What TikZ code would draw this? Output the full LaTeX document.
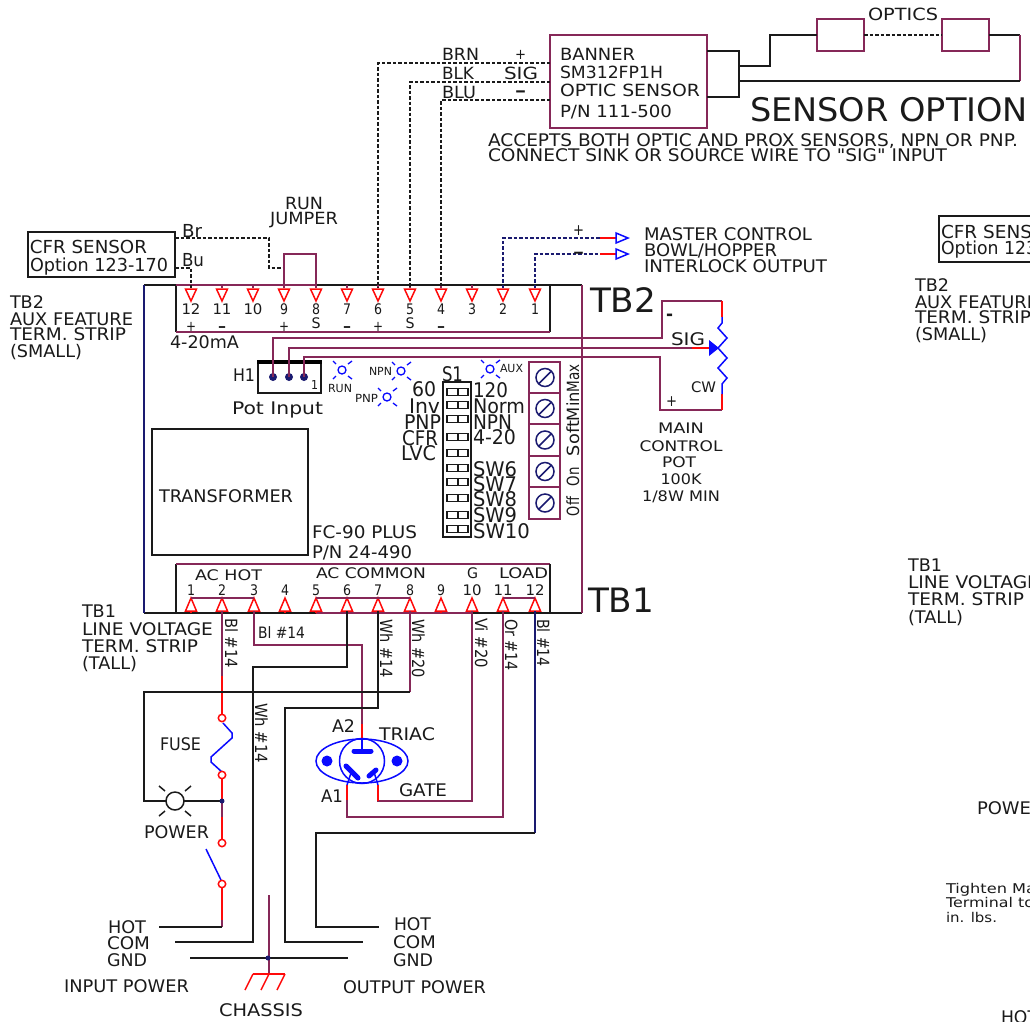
\documentclass[tikz,border=0pt]{standalone}
\usepackage{fontspec}
\setmainfont{DejaVu Sans}
\newfontfamily\plainquote[Ligatures=ResetAll]{DejaVu Sans}
\usepackage{graphicx}
\definecolor{pur}{HTML}{862858}
\definecolor{nav}{HTML}{1A1A70}
\definecolor{rd}{HTML}{FF0A0A}
\definecolor{bl}{HTML}{0A0AFF}
\definecolor{ink}{HTML}{1A1A1A}
\newsavebox\lbbox
\newcounter{lbn}
\newcommand\lbtext[3]{\sbox\lbbox{\fontsize{\fpeval{#1*1.12}}{\fpeval{#1*1.12}}\selectfont #3}\pgfmathsetmacro\lbhs{#2/\the\wd\lbbox}\scalebox{\lbhs}[1]{\usebox\lbbox}}
\newcommand\lab[6][]{\stepcounter{lbn}\node[inner sep=0,outer sep=0,text=ink,anchor=base west,#1] (lab\thelbn) at (#2,{#3+.408*#4}) {\lbtext{#4}{#5}{#6}};}
\newcommand\rlab[6][-90]{\stepcounter{lbn}\node[inner sep=0,outer sep=0,text=ink,anchor=base west,rotate=#1] (lab\thelbn) at (#2,#3) {\lbtext{#4}{#5}{#6}};}
\tikzset{
 wire/.style={line width=1.5pt,line join=miter},
 pw/.style={wire,draw=pur}, bw/.style={wire,draw=ink}, rw/.style={wire,draw=rd},
 uw/.style={wire,draw=bl}, nw/.style={wire,draw=nav},
 dw/.style={wire,draw=ink,dash pattern=on 3.5pt off 2pt},
 ndw/.style={wire,draw=nav,dash pattern=on 3.5pt off 2pt},
 tri/.style={line width=1.5pt,draw=rd,fill=white},
 box/.style={draw,line width=1.5pt,inner sep=0,outer sep=0,anchor=north west,fill=white},
 led/.style={line width=1.3pt,draw=bl},
}
\begin{document}
\begin{tikzpicture}[x=1pt,y=-1pt,font=\fontsize{14}{14}\selectfont]
\useasboundingbox (0,0) rectangle (1030,1021);
\clip (0,0) rectangle (1030,1021);
\fill[white] (0,0) rectangle (1030,1021);
% --- board and strips
\draw[bw] (144,285) -- (582,285);
\draw[bw] (144,613) -- (582,613);
\draw[wire,draw=nav] (144,285) -- (144,613);
\draw[pw] (582,285) -- (582,613);
\draw[bw] (550,285) -- (550,332);
\draw[bw] (176,285) -- (176,332);
\draw[pw] (176,332) -- (550,332);
\draw[pw] (176,285) -- (316,285);
\draw[bw] (176,613) -- (176,564);
\draw[pw] (176,564) -- (550,564);
\draw[bw] (550,564) -- (550,613);
\draw[pw] (316,613) -- (472,613);
% --- TB2 terminals
\foreach \n/\x/\w in {12/191/19,11/222/19,10/253/19,9/284/8,8/316/8,7/347/8,6/378/8,5/410/8,4/441/8,3/472/8,2/503/8,1/535/8}{
 \coordinate (a\n) at (\x,288);
 \draw[pw] (\x,285) -- (\x,288);
 \draw[tri] (\x-5.5,289) -- (\x+5.5,289) -- (\x,301) -- cycle;
 \lab[anchor=base]{\x}{309}{13}{\w}{\n}
}
% --- TB1 terminals
\foreach \n/\x/\w in {1/191/8,2/222/8,3/254/8,4/285/8,5/316/8,6/347/8,7/378/8,8/410/8,9/441/8,10/472/19,11/503/19,12/535/19}{
 \coordinate (b\n) at (\x,611);
 \draw[tri] (\x-5.5,611) -- (\x+5.5,611) -- (\x,598) -- cycle;
 \draw[rw] (\x,611) -- (\x,613);
 \lab[anchor=base]{\x}{590}{13}{\w}{\n}
}
\draw[pw] (b1 |- 0,598) -- (b3 |- 0,598);
\draw[pw] (b5 |- 0,598) -- (b8 |- 0,598);
\draw[pw] (b11 |- 0,598) -- (b12 |- 0,598);
% --- sign labels
\lab[anchor=base]{191}{326}{13}{10}{+}
\lab[anchor=base]{222}{326}{13}{8}{\textbf{–}}
\lab[anchor=base]{284}{326}{13}{10}{+}
\lab[anchor=base]{316}{323}{13}{9}{S}
\lab[anchor=base]{347}{326}{13}{8}{\textbf{–}}
\lab[anchor=base]{378}{326}{13}{10}{+}
\lab[anchor=base]{410}{323}{13}{9}{S}
\lab[anchor=base]{441}{326}{13}{8}{\textbf{–}}
% --- banner sensor
\node[box,draw=pur,minimum width=157pt,minimum height=93pt] (banner) at (550,35) {};
\node[box,draw=pur,minimum width=47pt,minimum height=32pt] (optA) at (817,19) {};
\node[box,draw=pur,minimum width=47pt,minimum height=32pt] (optB) at (942,19) {};
\draw[bw] (707,51) -- (739,51) -- (739,97) -- (707,97);
\draw[bw] (739,66) -- (770,66) -- (770,35) -- (optA.west);
\draw[dw] (optA.east) -- (optB.west);
\draw[bw] (optB.east) -- (1020,35);
\draw[pw] (1020,35) -- (1020,81);
\draw[bw] (1020,81) -- (739,81);
\draw[dw] (banner.west |- 0,63) -- (378,63) -- (a6);
\draw[dw] (banner.west |- 0,82) -- (410,82) -- (a5);
\draw[dw] (banner.west |- 0,100) -- (441,100) -- (a4);
\lab{442}{54}{15}{37}{BRN}
\lab{442}{73}{15}{32}{BLK}
\lab{442}{92}{15}{34}{BLU}
\lab{515}{54}{13}{11}{+}
\lab{504}{73}{15}{34}{SIG}
\lab{515}{90}{15}{11}{\textbf{–}}
\lab{560}{54}{15}{75}{BANNER}
\lab{560}{72}{15}{103}{SM312FP1H}
\lab{560}{90}{15}{140}{OPTIC SENSOR}
\lab{560}{111}{15}{112}{P/N 111-500}
\lab{868}{14}{15}{70}{OPTICS}
\lab{750}{110}{29}{278}{SENSOR OPTION}
\lab{488}{140}{15.5}{530}{ACCEPTS BOTH OPTIC AND PROX SENSORS, NPN OR PNP.}
\lab{488}{155}{15.5}{459}{CONNECT SINK OR SOURCE WIRE TO {\plainquote "}SIG{\plainquote "} INPUT}
% --- CFR sensor and jumper
\node[box,draw=ink,minimum width=147pt,minimum height=45pt] (cfr) at (28,232) {};
\draw[dw] (cfr.east |- 0,238) -- (269,238) -- (269,268) -- (284,268);
\draw[dw] (cfr.east |- 0,268) -- (191,268) -- (a12);
\draw[pw] (a9) -- (284,254) -- (316,254) -- (a8);
\lab{30}{247}{16}{117}{CFR SENSOR}
\lab{30}{265}{16}{138}{Option 123-170}
\lab{182}{231}{16}{20}{Br}
\lab{182}{260}{16}{22}{Bu}
\lab[anchor=base]{304}{203}{15}{38}{RUN}
\lab[anchor=base]{304}{218}{15}{68}{JUMPER}
\lab{10}{302}{15.5}{34}{TB2}
\lab{10}{319}{15.5}{123}{AUX FEATURE}
\lab{10}{334}{15.5}{116}{TERM. STRIP}
\lab{10}{351}{15.5}{72}{(SMALL)}
\lab{170}{342}{15.5}{69}{4-20mA}
\lab{590}{300}{30}{66}{TB2}
\lab{588}{600}{30}{66}{TB1}
% --- interlock output
\draw[ndw] (a2) -- (503,238) -- (600,238);
\draw[ndw] (a1) -- (535,254) -- (600,254);
\draw[rw] (600,238) -- (616,238);
\draw[rw] (600,254) -- (616,254);
\draw[uw,fill=white] (616,233) -- (628,238) -- (616,243) -- cycle;
\draw[uw,fill=white] (616,249) -- (628,254) -- (616,259) -- cycle;
\lab{573}{230}{14}{11}{+}
\lab{573}{252}{14}{11}{\textbf{–}}
\lab{644}{234}{15.5}{168}{MASTER CONTROL}
\lab{644}{250}{15.5}{133}{BOWL/HOPPER}
\lab{644}{266}{15.5}{183}{INTERLOCK OUTPUT}
% --- pot wiring
\coordinate (h1) at (273,377);
\coordinate (h2) at (289,377);
\coordinate (h3) at (304,377);
\draw[pw] (h1) -- (273,338) -- (662,338) -- (662,301) -- (722,301);
\draw[pw] (h2) -- (289,348) -- (692,348);
\draw[pw] (h3) -- (304,357) -- (660,357) -- (660,410) -- (722,410);
\draw[rw] (722,301) -- (722,317);
\draw[rw] (722,394) -- (722,410);
\draw[rw] (692,348) -- (710,348);
\draw[uw] (722,317) -- (722,323) -- (718,328) -- (727,338) -- (718,348) -- (727,358) -- (718,368) -- (727,378) -- (722,384) -- (722,394);
\fill[bl] (709,340) -- (719,348) -- (709,356) -- cycle;
\lab{666}{314}{16}{7}{\textbf{-}}
\lab{671}{339}{15.5}{34}{SIG}
\lab{691}{387}{13}{25}{CW}
\lab{666}{401}{14}{11}{+}
\lab[anchor=base]{681}{428}{13}{46}{MAIN}
\lab[anchor=base]{681}{446}{13}{83}{CONTROL}
\lab[anchor=base]{679}{462}{13}{34}{POT}
\lab[anchor=base]{681}{479}{13}{41}{100K}
\lab[anchor=base]{681}{496}{13}{78}{1/8W MIN}
% --- H1
\node[box,draw=ink,minimum width=63pt,minimum height=31pt] (hdr) at (258,362) {};
\draw[line width=3.5pt,draw=black] ([xshift=-1pt]hdr.north west) -- ([xshift=1pt]hdr.north east);
\foreach \c in {h1,h2,h3}{\fill[nav] (\c) circle [radius=4pt];}
\draw[pw] (h1) -- (273,338);
\draw[pw] (h2) -- (289,348);
\draw[pw] (h3) -- (304,357);
\lab{233}{375}{15.5}{22}{H1}
\lab{311}{385}{11}{7}{1}
\lab{232}{408}{15.5}{91}{Pot Input}
% --- LEDs
\foreach \cx/\cy in {342/370,401/371,387/397,490/369}{
 \draw[led] (\cx,\cy) circle [radius=4pt];
 \draw[led] (\cx+6,\cy-6) -- (\cx+10,\cy-9);
 \draw[led] (\cx-6,\cy-6) -- (\cx-9,\cy-9);
 \draw[led] (\cx+6,\cy+6) -- (\cx+10,\cy+9);
 \draw[led] (\cx-6,\cy+6) -- (\cx-9,\cy+9);
}
\lab{328}{388}{10}{24}{RUN}
\lab{369}{371}{10}{23}{NPN}
\lab{355}{398}{10}{23}{PNP}
\lab{500}{368}{10}{23}{AUX}
% --- DIP switch
\node[box,draw=ink,minimum width=28pt,minimum height=155pt] (dip) at (443,382) {};
\foreach \sy in {392,405,419,437,453,468,482,498,515,529}{
 \draw[line width=1.3pt,draw=ink] (447,\sy-3.5) rectangle (468,\sy+3.5);
 \draw[line width=1.3pt,draw=ink] (458,\sy-3.5) -- (458,\sy+3.5);
}
\lab{442}{374}{18}{21}{S1}
\lab{412}{389}{18}{24}{60}
\lab{409}{406}{18}{31}{Inv}
\lab{404}{422}{18}{37}{PNP}
\lab{402}{438}{18}{36}{CFR}
\lab{401}{453}{18}{35}{LVC}
\lab{473}{390}{18}{35}{120}
\lab{473}{406}{18}{52}{Norm}
\lab{473}{422}{18}{39}{NPN}
\lab{473}{437}{18}{43}{4-20}
\lab{473}{469}{18}{44}{SW6}
\lab{473}{484}{18}{44}{SW7}
\lab{473}{499}{18}{44}{SW8}
\lab{473}{515}{18}{44}{SW9}
\lab{473}{531}{18}{57}{SW10}
% --- trim pots
\foreach \ty/\by in {362/393,393/424,424/456,456/487,487/519}{
 \draw[pw] (529,\ty) rectangle (560,\by);
 \draw[line width=1.5pt,draw=nav] (545,{(\ty+\by)/2}) circle [radius=9pt];
 \draw[line width=1.5pt,draw=nav] (539,{(\ty+\by)/2+6}) -- (551,{(\ty+\by)/2-6});
}
\rlab[90]{579}{392}{15}{28}{Max}
\rlab[90]{579}{421}{15}{29}{Min}
\rlab[90]{579}{456}{15}{35}{Soft}
\rlab[90]{579}{486}{15}{19}{On}
\rlab[90]{579}{516}{15}{19}{Off}
% --- transformer
\node[box,draw=ink,minimum width=156pt,minimum height=126pt] (xfmr) at (152,429) {};
\lab{159}{496}{15.5}{134}{TRANSFORMER}
\lab{312}{532}{15.5}{105}{FC-90 PLUS}
\lab{312}{552}{15.5}{100}{P/N 24-490}
% --- TB1 labels
\lab{195}{575}{13}{67}{AC HOT}
\lab{316}{573}{13}{110}{AC COMMON}
\lab{467}{573}{13}{11}{G}
\lab{499}{573}{13}{49}{LOAD}
\lab{82}{611}{15.5}{34}{TB1}
\lab{82}{629}{15.5}{131}{LINE VOLTAGE}
\lab{82}{646}{15.5}{116}{TERM. STRIP}
\lab{82}{663}{15.5}{55}{(TALL)}
\rlab{225}{618}{15}{50}{Bl \#14}
\rlab{255}{703}{15}{60}{Wh \#14}
\rlab{380}{619}{15}{59}{Wh \#14}
\rlab{412}{619}{15}{59}{Wh \#20}
\rlab{475}{618}{15}{50}{Vi \#20}
\rlab{505}{619}{15}{52}{Or \#14}
\rlab{537}{619}{15}{48}{Bl \#14}
\lab{258}{633}{14}{47}{Bl \#14}
% --- lower wiring
\coordinate (fuseT) at (222,718);
\coordinate (fuseB) at (222,775);
\coordinate (swT) at (222,843);
\coordinate (swB) at (222,884);
\coordinate (junc) at (222,801);
\coordinate (lamp) at (175,801);
\coordinate (gndj) at (268,958);
\coordinate (tA2) at (362,739);
\coordinate (tA1) at (347,785);
\coordinate (tG) at (378,785);
\draw[pw] (b2) -- (222,676);
\draw[rw] (222,676) -- (fuseT);
\draw[rw] (fuseB) -- (junc);
\draw[pw] (junc) -- (222,817);
\draw[rw] (222,817) -- (swT);
\draw[rw] (swB) -- (222,920);
\draw[pw] (222,920) -- (222,927);
\draw[bw] (222,927) -- (159,927);
\draw[uw] (223,723) -- (232,733) -- (232,738) -- (211,757) -- (211,762) -- (222,772);
\draw[uw] (206,849) -- (221,880);
\foreach \c in {fuseT,fuseB,swT,swB}{\draw[rw,fill=white] (\c) circle [radius=3.7pt];}
\draw[pw] (b3) -- (254,645) -- (362,645) -- (362,724);
\draw[rw] (362,724) -- (tA2);
\draw[bw] (b6) -- (347,667) -- (253,667) -- (253,942) -- (175,942);
\draw[bw] (b7) -- (378,708) -- (285,708) -- (285,942) -- (363,942);
\draw[pw] (b8) -- (410,692);
\draw[bw] (410,692) -- (144,692) -- (144,801) -- (lamp);
\draw[bw] (lamp) -- (junc);
\draw[pw] (b10) -- (472,801) -- (378,801) -- (378,800);
\draw[rw] (378,801) -- (tG);
\draw[pw] (b11) -- (503,817) -- (347,817) -- (347,800);
\draw[rw] (347,800) -- (tA1);
\draw[nw] (b12) -- (535,833);
\draw[bw] (535,833) -- (316,833) -- (316,927) -- (379,927);
\draw[bw] (190,958) -- (348,958);
\draw[pw] (269,895) -- (269,974);
\draw[rw] (253,974) -- (285,974);
\draw[rw] (253,974) -- (245,990);
\draw[rw] (269,974) -- (261,990);
\draw[rw] (285,974) -- (277,990);
\fill[nav] (junc) circle [radius=2.5pt];
\fill[nav] (gndj) circle [radius=2.5pt];
\draw[bw,fill=white] (lamp) circle [radius=9pt];
\draw[bw] (165,791) -- (159,786);
\draw[bw] (185,791) -- (191,786);
\draw[bw] (165,811) -- (159,816);
\draw[bw] (185,811) -- (191,816);
\lab{160}{744}{15.5}{41}{FUSE}
\lab{144}{832}{15.5}{65}{POWER}
% --- triac
\draw[uw] (362,761) ellipse [x radius=46, y radius=22];
\draw[uw] (362,761) circle [radius=22.5pt];
\fill[bl] (327,761) circle [radius=5.5pt];
\fill[bl] (397,761) circle [radius=5.5pt];
\draw[bl,line width=5pt,line cap=round] (354,751) -- (371,751);
\draw[bl,line width=5pt,line cap=round] (346,766) -- (358,778);
\draw[bl,line width=5pt,line cap=round] (369,776) -- (376,770);
\draw[uw] (tA2) -- (362,751);
\draw[uw] (351,773) -- (tA1);
\draw[uw] (374,772) -- (tG);
\lab{332}{726}{15.5}{23}{A2}
\lab{379}{734}{15.5}{56}{TRIAC}
\lab{399}{790}{15.5}{48}{GATE}
\lab{321}{796}{15.5}{22}{A1}
% --- power labels
\lab{108}{927}{15.5}{38}{HOT}
\lab{107}{943}{15.5}{43}{COM}
\lab{107}{960}{15.5}{40}{GND}
\lab{64}{986}{15.5}{125}{INPUT POWER}
\lab{394}{924}{15.5}{37}{HOT}
\lab{393}{942}{15.5}{43}{COM}
\lab{393}{960}{15.5}{40}{GND}
\lab{343}{987}{15.5}{143}{OUTPUT POWER}
\lab{219}{1010}{15.5}{84}{CHASSIS}
% --- right edge, cut by the sheet
\draw[bw] (1031,216) -- (939,216) -- (939,262) -- (1031,262);
\lab{941}{232}{16}{91}{CFR SENS}
\lab{941}{248}{16}{96}{Option 123}
\lab{915}{285}{15.5}{34}{TB2}
\lab{915}{302}{15.5}{123}{AUX FEATURE}
\lab{915}{317}{15.5}{116}{TERM. STRIP}
\lab{915}{334}{15.5}{72}{(SMALL)}
\lab{908}{565}{15.5}{34}{TB1}
\lab{908}{582}{15.5}{131}{LINE VOLTAGE}
\lab{908}{599}{15.5}{116}{TERM. STRIP}
\lab{908}{617}{15.5}{55}{(TALL)}
\lab{977}{808}{15.5}{54}{POWE}
\lab{946}{889}{12}{90}{Tighten Ma}
\lab{946}{903}{12}{88}{Terminal to}
\lab{946}{918}{12}{51}{in. lbs.}
\lab{1001}{1017}{15.5}{37}{HOT}
\end{tikzpicture}
\end{document}
